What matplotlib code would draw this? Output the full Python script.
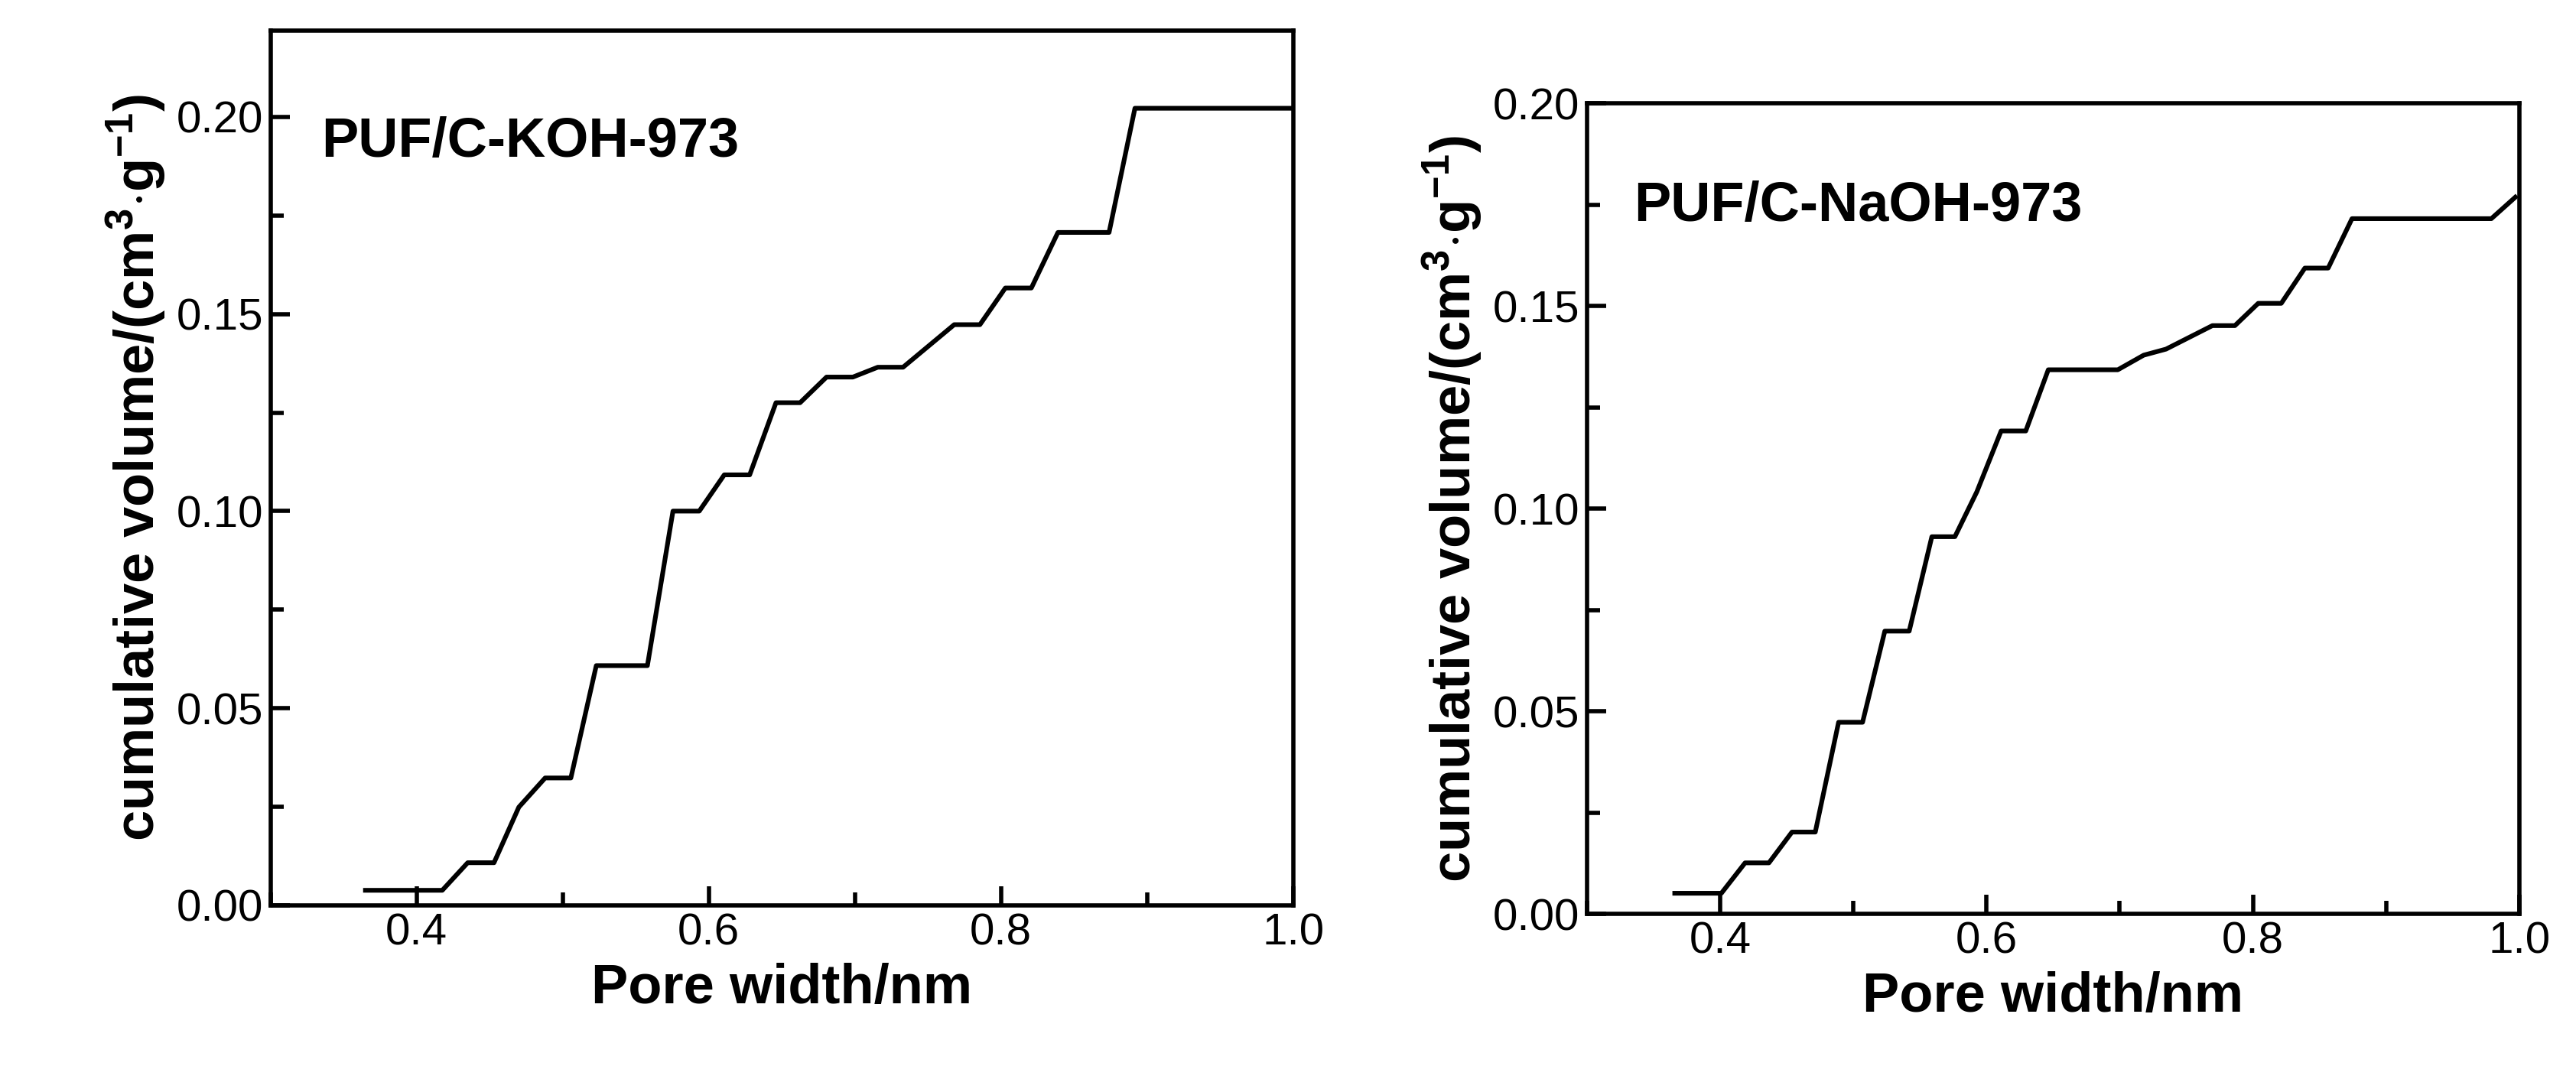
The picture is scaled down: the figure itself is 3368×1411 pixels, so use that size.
import matplotlib
matplotlib.use("Agg")
import matplotlib.pyplot as plt
from matplotlib.ticker import MultipleLocator

plt.rcParams['font.family'] = ['Liberation Sans', 'DejaVu Sans']
plt.rcParams['mathtext.fontset'] = 'custom'
plt.rcParams['mathtext.rm'] = 'Liberation Sans:bold'
plt.rcParams['mathtext.it'] = 'Liberation Sans:bold'
plt.rcParams['mathtext.bf'] = 'Liberation Sans:bold'

koh_x = [0.365, 0.4176, 0.435, 0.453, 0.470, 0.488, 0.5056, 0.523, 0.558, 0.5755, 0.5935,
         0.6106, 0.628, 0.646, 0.6625, 0.6806, 0.6986, 0.7157, 0.733, 0.768, 0.7856, 0.803,
         0.8208, 0.839, 0.874, 0.8917, 1.0]
koh_y = [0.0038, 0.0038, 0.0108, 0.0108, 0.0249, 0.0323, 0.0323, 0.0608, 0.0608, 0.100, 0.100,
         0.1092, 0.1092, 0.1275, 0.1275, 0.134, 0.134, 0.1365, 0.1365, 0.1473, 0.1473, 0.1566,
         0.1566, 0.1707, 0.1707, 0.2022, 0.2022]
naoh_x = [0.366, 0.401, 0.4188, 0.4367, 0.454, 0.4715, 0.489, 0.507, 0.5237, 0.542, 0.559,
          0.5763, 0.5928, 0.611, 0.6295, 0.6464, 0.6986, 0.718, 0.7348, 0.7696, 0.7865, 0.804,
          0.8213, 0.839, 0.8565, 0.8744, 0.979, 0.997]
naoh_y = [0.0051, 0.0051, 0.0126, 0.0126, 0.0202, 0.0202, 0.0473, 0.0473, 0.0698, 0.0698, 0.0931,
          0.0931, 0.1042, 0.1192, 0.1192, 0.1343, 0.1343, 0.1379, 0.1394, 0.1452, 0.1452, 0.1507,
          0.1507, 0.1594, 0.1594, 0.1716, 0.1716, 0.1769]

panels = [
    (koh_x, koh_y, "PUF/C-KOH-973", [0.105, 0.161, 0.397, 0.811], 0.222, (0.05, 0.855)),
    (naoh_x, naoh_y, "PUF/C-NaOH-973", [0.616, 0.153, 0.362, 0.751], 0.20, (0.05, 0.855)),
]

fig = plt.figure(figsize=(16.84, 7.055), dpi=200)
for xs, ys, name, rect, ymax, tpos in panels:
    ax = fig.add_axes(rect)
    ax.plot(xs, ys, color='black', lw=2.2)
    ax.set_xlim(0.3, 1.0)
    ax.set_ylim(0, ymax)
    ax.xaxis.set_minor_locator(MultipleLocator(0.1))
    ax.yaxis.set_major_locator(MultipleLocator(0.05))
    ax.yaxis.set_minor_locator(MultipleLocator(0.025))
    ax.set_xticks([0.4, 0.6, 0.8, 1.0])
    ax.set_xticklabels(['0.4', '0.6', '0.8', '1.0'])
    ax.set_yticklabels([f"{v:.2f}" for v in ax.get_yticks()])
    ax.tick_params(which='both', direction='in', top=False, right=False, width=2, labelsize=21)
    ax.tick_params(which='major', length=9)
    ax.tick_params(which='minor', length=6)
    for s in ax.spines.values():
        s.set_linewidth(2)
    ax.set_xlabel("Pore width/nm", fontsize=26, fontweight='bold')
    ax.set_ylabel(r"cumulative volume/(cm$^{3}$$\cdot$g$^{-1}$)", fontsize=26, fontweight='bold')
    ax.text(tpos[0], tpos[1], name, transform=ax.transAxes, fontsize=26, fontweight='bold')

fig.savefig("out.png", dpi=200)
